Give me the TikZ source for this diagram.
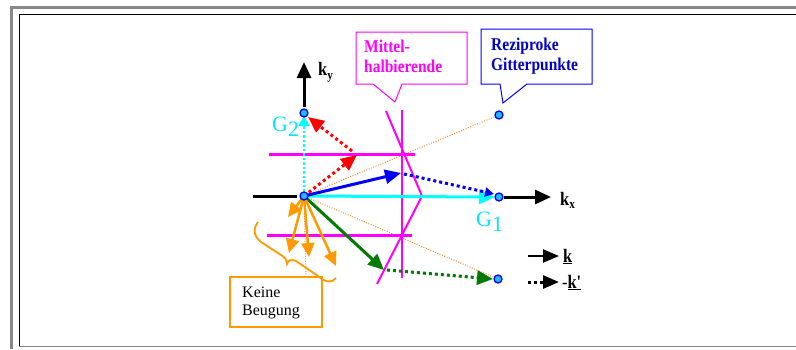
\documentclass[tikz,border=0pt]{standalone}
\usepackage{fontspec}
\setmainfont{Liberation Serif}
\newfontfamily\nfont[FakeStretch=0.86]{Liberation Serif}
\usetikzlibrary{arrows.meta,calc}
\definecolor{framegray}{HTML}{888888}
\definecolor{mag}{HTML}{FF00FF}
\definecolor{cyn}{HTML}{00FFFF}
\definecolor{cyntext}{HTML}{00E5FF}
\definecolor{blu}{HTML}{0000FF}
\definecolor{blutext}{HTML}{0000CC}
\definecolor{rd}{HTML}{FF0000}
\definecolor{grn}{HTML}{007A00}
\definecolor{orng}{HTML}{FF9900}
\definecolor{orngdot}{HTML}{FF8833}
\definecolor{ptfill}{HTML}{22BBFF}
\begin{document}
\begin{tikzpicture}[x=1pt,y=-1pt,
  ah/.style={-{Triangle[length=16pt,width=14pt]}},
  smallah/.style={-{Triangle[length=9pt,width=9pt]}},
  thickdots/.style={line width=3pt,dash pattern=on 3pt off 3pt},
  thindots/.style={orngdot,line width=1pt,dash pattern=on 1pt off 1.5pt},
  magline/.style={mag,line width=2pt},
  magbar/.style={mag,line width=3pt},
  axisline/.style={black,line width=3pt},
  gpt/.style={circle,draw=blu,fill=ptfill,line width=1.3pt,inner sep=0pt,minimum size=8pt},
  lbl/.style={inner sep=0pt,anchor=base west},
  callfont/.style={font=\nfont\fontsize{18}{20}\selectfont\bfseries},
  kbfont/.style={font=\fontsize{16}{18}\selectfont},
  kfont/.style={font=\nfont\fontsize{19}{20}\selectfont\bfseries},
  gfont/.style={font=\fontsize{22}{24}\selectfont}]
\useasboundingbox (0,0) rectangle (796,349);
% frames
\draw[framegray,line width=3pt] (11.5,349) -- (11.5,7.5) -- (796,7.5);
\draw[framegray,line width=1.5pt] (19,346.3) -- (796,346.3);
\draw[black,line width=1.5pt] (19.5,345.5) -- (19.5,14.5) -- (796,14.5);
% lattice coordinates
\coordinate (O) at (304,196);
\coordinate (G1) at (499,197);
\coordinate (G2) at (304,113);
\coordinate (P3) at (499,115);
\coordinate (P4) at (498,279);
\coordinate (Ov) at (306,274);
\coordinate (B) at (401,173);
\coordinate (R) at (357,155);
\coordinate (Gr) at (384,270);
\coordinate (A1) at (288,217);
\coordinate (A2) at (289,253);
\coordinate (A3) at (309,257);
\coordinate (A4) at (336,266);
\coordinate (kyT) at (304,62);
\coordinate (kxT) at (551,197);
\coordinate (xL) at (253,196);
% thin orange dotted lines
\draw[thindots] (O) -- (P3);
\draw[thindots] (O) -- (P4);
\draw[thindots] (O) -- (Ov);
% magenta bisectors
\coordinate (M1) at (386,111);
\coordinate (M2) at (422,196);
\coordinate (M3) at (377,284);
\draw[magline] (M1) -- (M2) -- (M3);
\coordinate (V1) at (402,110);
\coordinate (V2) at (402,278);
\draw[magline] (V1) -- (V2);
\coordinate (H1a) at (269,154);
\coordinate (H1b) at (415,154);
\coordinate (H2a) at (267,235);
\coordinate (H2b) at (412,235);
\draw[magbar] (H1a) -- (H1b);
\draw[magbar] (H2a) -- (H2b);
% axes
\draw[axisline] (xL) -- ($(O)+(-7,0)$);
\draw[axisline,ah] ($(G2)+(0,-6)$) -- (kyT);
\draw[axisline,ah] ($(G1)+(5,0)$) -- (kxT);
% cyan G vectors
\draw[cyn,line width=3pt,ah] (O) -- ($(G1)+(-4,0)$);
\draw[cyn,line width=2.5pt,dash pattern=on 2.5pt off 2pt,-{Triangle[length=10pt,width=11pt]}] (O) -- ($(G2)+(0,3)$);
% blue
\draw[blu,line width=3pt,ah] (O) -- (B);
\draw[blu,thickdots,smallah] ($(B)+(3,1)$) -- ($(G1)+(-5,-3)$);
% red
\draw[rd,thickdots,ah] (O) -- (R);
\draw[rd,thickdots,ah] ($(R)+(-5,-4)$) -- ($(G2)+(4,4)$);
% green
\draw[grn,line width=3pt,ah] (O) -- (Gr);
\draw[grn,thickdots,ah] ($(Gr)+(3,0)$) -- ($(P4)+(-5,0)$);
% orange (no diffraction)
\draw[orng,line width=2.5pt,-{Triangle[length=14pt,width=13pt]}] (O) -- (A1);
\draw[orng,line width=2.5pt,-{Triangle[length=14pt,width=13pt]}] (O) -- (A2);
\draw[orng,line width=2.5pt,-{Triangle[length=14pt,width=13pt]}] (O) -- (A3);
\draw[orng,line width=2.5pt,-{Triangle[length=14pt,width=13pt]}] (O) -- (A4);
% curly brace
\draw[orng,line width=1.8pt] (258,222) .. controls (252,230) and (254,238) .. (264,244)
  -- (281,255) .. controls (286,258) and (287,261) .. (287,264)
  .. controls (288,260) and (291,259) .. (296,261)
  -- (318,276) .. controls (326,283) and (332,283) .. (336,278);
% callouts
\draw[mag,line width=1pt] (356,32) -- (467,32) -- (467,84) -- (402,84) -- (395,102) -- (373,84) -- (356,84) -- cycle;
\node[lbl,callfont,text=mag] (mt1) at (364,52) {Mittel-};
\node[lbl,callfont,text=mag] (mt2) at (364,72) {halbierende};
\draw[blu,line width=1pt] (481,29) -- (592,29) -- (592,84) -- (527,84) -- (503,103) -- (500,84) -- (481,84) -- cycle;
\node[lbl,callfont,text=blutext] (rz1) at (491,50) {Reziproke};
\node[lbl,callfont,text=blutext] (rz2) at (491,70) {Gitterpunkte};
% Keine Beugung box
\draw[orng,line width=2pt] (230,277) rectangle (322,327);
\node[lbl,kbfont] (kb1) at (242,297) {Keine};
\node[lbl,kbfont] (kb2) at (242,315) {Beugung};
% axis labels
\node[lbl,kfont] (ky) at (318,75) {k\raisebox{-4pt}{\fontsize{13}{14}\selectfont y}};
\node[lbl,kfont] (kx) at (560,205) {k\raisebox{-3pt}{\fontsize{13}{14}\selectfont x}};
\node[lbl,gfont,text=cyntext] (g2) at (272,131) {G\raisebox{-5pt}{2}};
\node[lbl,gfont,text=cyntext] (g1) at (476,226) {G\raisebox{-5pt}{1}};
% legend
\coordinate (L1a) at (528,256);
\coordinate (L1b) at (559,256);
\coordinate (L2a) at (528,282);
\coordinate (L2b) at (559,282);
\draw[black,line width=2.5pt,-{Triangle[length=16pt,width=13pt]}] (L1a) -- (L1b);
\draw[black,thickdots,-{Triangle[length=16pt,width=13pt]}] (L2a) -- (L2b);
\node[lbl,kfont] (lk) at (563,262) {\underline{k}};
\node[lbl,kfont] (lk2) at (562,288) {\mdseries-\bfseries\underline{k'}};
% lattice points on top
\node[gpt] (pO) at (O) {};
\node[gpt] (pG1) at (G1) {};
\node[gpt] (pG2) at (G2) {};
\node[gpt] (pP3) at (P3) {};
\node[gpt] (pP4) at (P4) {};
\end{tikzpicture}
\end{document}
